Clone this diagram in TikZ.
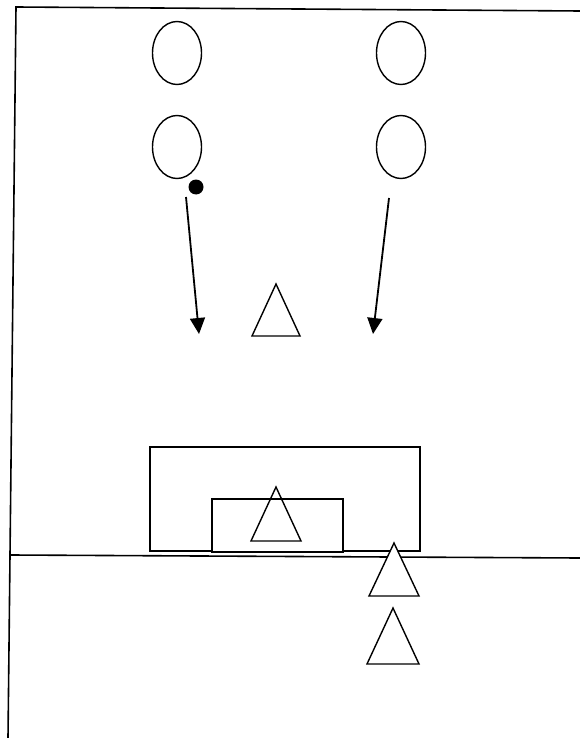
\documentclass[tikz,border=0pt]{standalone}
\usetikzlibrary{shapes.geometric,arrows.meta}
\begin{document}
\begin{tikzpicture}[x=1pt,y=-1pt,
  line/.style={line width=1.6pt,black},
  player/.style={draw,line width=1.4pt,ellipse,minimum width=49pt,minimum height=63pt,inner sep=0pt},
  cone/.style={line width=1.4pt,line join=miter},
  run/.style={line width=1.8pt,-{Triangle[length=16pt,width=15pt]}},
  box/.style={line width=1.5pt}]
\useasboundingbox (0,0) rectangle (580,738);
% field lines
\coordinate (tl) at (16,7);
\coordinate (tr) at (580,11);
\coordinate (bl) at (8,738);
\coordinate (ml) at (11,555);
\coordinate (mr) at (580,558);
\draw[line] (tr) -- (tl) -- (bl);
\draw[line] (ml) -- (mr);
% players
\node[player] (p1) at (177,53) {};
\node[player] (p2) at (401,53) {};
\node[player] (p3) at (177,147) {};
\node[player] (p4) at (401,147) {};
% ball
\node[circle,fill=black,minimum size=15pt,inner sep=0pt] (ball) at (196,187) {};
% runs
\coordinate (a1s) at (186,197);
\coordinate (a1e) at (199,334);
\coordinate (a2s) at (389,198);
\coordinate (a2e) at (373,334);
\draw[run] (a1s) -- (a1e);
\draw[run] (a2s) -- (a2e);
% goal boxes
\coordinate (ob1) at (150,447);
\coordinate (ob2) at (420,551);
\coordinate (ib1) at (212,499);
\coordinate (ib2) at (343,552);
\draw[box] (ob1) rectangle (ob2);
\draw[box,fill=white] (ib1) rectangle (ib2);
% cones
\coordinate (c1) at (276,284);
\coordinate (c2) at (276,487);
\coordinate (c3) at (394,543);
\coordinate (c4) at (393,608);
\draw[cone] (c1) -- ++(-24,52) -- ++(48,0) -- cycle;
\draw[cone] (c2) -- ++(-25,54) -- ++(50,0) -- cycle;
\draw[cone,fill=white] (c3) -- ++(-25,53) -- ++(50,0) -- cycle;
\draw[cone] (c4) -- ++(-26,56) -- ++(52,0) -- cycle;
\end{tikzpicture}
\end{document}
